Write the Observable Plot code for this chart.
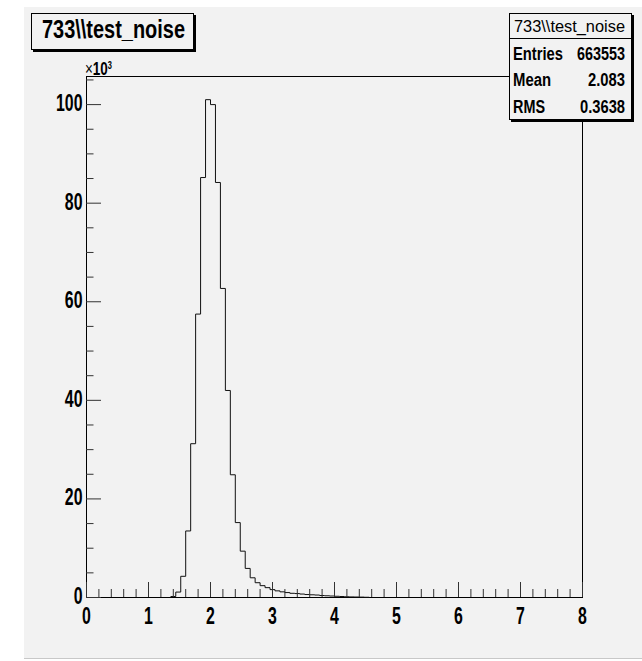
<!DOCTYPE html>
<html><head><meta charset="utf-8">
<script src="https://cdn.jsdelivr.net/npm/d3@7"></script>
<script src="https://cdn.jsdelivr.net/npm/@observablehq/plot@0.6"></script>
<style>
html,body{margin:0;padding:0;background:#fff;}
#wrap{position:relative;width:642px;height:661px;overflow:hidden;background:#fff;font-family:"Liberation Sans",Arial,sans-serif;}
#canvas{position:absolute;left:24px;top:7px;width:618px;height:651px;background:#f2f2f2;border-bottom:1px solid #c8c8c8;}
#chart{position:absolute;left:0;top:0;}
.box{position:absolute;border:1px solid #000;box-shadow:2px 2px 0 #000;background:#f2f2f2;}
#title{left:31px;top:13px;width:161px;height:35px;}
#stats{left:509px;top:13px;width:121px;height:105px;}
#stats .hd{position:absolute;left:0;top:24px;width:121px;height:0;border-bottom:1px solid #000;}
.t{position:absolute;white-space:nowrap;color:#000;}
.t span{display:inline-block;}
</style>
</head><body>
<div id="wrap">
  <div id="canvas"></div>
  <div id="chart"></div>
  <div id="title" class="box"></div>
  <div id="stats" class="box"><div class="hd"></div></div>
</div>
<script>
// Histogram: bin lower edges (bin width 0.08) and counts in thousands
const binWidth = 0.08;
const binStart = [1.36,1.44,1.52,1.60,1.68,1.76,1.84,1.92,2.00,2.08,2.16,2.24,2.32,2.40,2.48,2.56,2.64,2.72,2.80,2.88,
                  2.96,3.04,3.12,3.20,3.28,3.36,3.44,3.52,3.60,3.68,3.76,3.84,3.92,4.00,4.08,4.16,4.24,4.32,4.40,4.48];
const counts   = [0.2,1.1,4.3,13.5,31.2,57.5,85.2,101.0,100.0,84.2,62.7,42.0,24.9,15.2,9.4,5.9,4.0,3.0,2.4,2.0,
                  1.6,1.35,1.15,1.0,0.85,0.8,0.7,0.6,0.55,0.5,0.4,0.35,0.3,0.25,0.2,0.15,0.12,0.1,0.08,0.05];
const xMajor = [0,1,2,3,4,5,6,7,8];
const xMinor = [0.2,0.4,0.6,0.8,1.2,1.4,1.6,1.8,2.2,2.4,2.6,2.8,3.2,3.4,3.6,3.8,4.2,4.4,4.6,4.8,5.2,5.4,5.6,5.8,6.2,6.4,6.6,6.8,7.2,7.4,7.6,7.8];
const yMajor = [0,20,40,60,80,100];
const yMinor = [5,10,15,25,30,35,45,50,55,65,70,75,85,90,95,105];
const yMax = 105.7;
const titleText = "733\\\\test_noise";
const statLabels = ["Entries","Mean","RMS"];
const statValues = ["663553","2.083","0.3638"];

const pts = [{x: binStart[0], y: 0}];
binStart.forEach((b, i) => pts.push({x: b, y: counts[i]}));
pts.push({x: binStart[binStart.length-1] + binWidth, y: 0});

const FONT = '"Liberation Sans",Arial,sans-serif';
const plot = Plot.plot({
  width: 642, height: 661,
  marginLeft: 86, marginRight: 60, marginTop: 76, marginBottom: 64,
  style: {background: "transparent", fontFamily: FONT, fontSize: "23px", fontWeight: "bold", color: "black", overflow: "visible"},
  x: {domain: [0, 8]},
  y: {domain: [0, yMax]},
  marks: [
    Plot.frame({stroke: "black", strokeWidth: 1}),
    Plot.line(pts, {x: "x", y: "y", curve: "step-after", stroke: "#111", strokeWidth: 1}),
    Plot.axisX(xMajor, {tickSize: -15, tickFormat: () => "", label: null, stroke: "#333"}),
    Plot.axisX(xMinor, {tickSize: -8, tickFormat: () => "", label: null, stroke: "#333"}),
    Plot.axisX(xMajor, {tickSize: 0, tickPadding: 10, label: null, fontSize: 23, fontWeight: "bold"}),
    Plot.axisY(yMajor, {tickSize: -15, tickFormat: () => "", label: null, stroke: "#333"}),
    Plot.axisY(yMinor, {tickSize: -7.5, tickFormat: () => "", label: null, stroke: "#333"}),
    Plot.axisY(yMajor, {tickSize: 0, tickPadding: 4, label: null, fontSize: 23, fontWeight: "bold", dy: -1})
  ]
});
document.getElementById("chart").appendChild(plot);
// condense the tick labels (ROOT uses a narrow bold face)
plot.querySelectorAll("text").forEach(t => {
  const w = t.getComputedTextLength();
  if (w > 0) { t.setAttribute("textLength", w * 0.69); t.setAttribute("lengthAdjust", "spacingAndGlyphs"); }
});

const wrap = document.getElementById("wrap");
// place a text: x anchor, y = cap centre, squeezed to target width
function place(text, {x, y, anchor = "start", size, weight = "normal", width, html = false}) {
  const d = document.createElement("div"); d.className = "t";
  const s = document.createElement("span");
  if (html) s.innerHTML = text; else s.textContent = text;
  d.appendChild(s);
  d.style.fontSize = size + "px"; d.style.fontWeight = weight; d.style.lineHeight = size + "px";
  wrap.appendChild(d);
  const nat = s.getBoundingClientRect().width;
  const k = width / nat;
  s.style.transform = `scaleX(${k})`;
  s.style.transformOrigin = "0 0";
  const left = anchor === "start" ? x : anchor === "end" ? x - width : x - width / 2;
  d.style.left = left + "px";
  d.style.top = (y - 0.488 * size) + "px";
  return d;
}
place(titleText, {x: 113.5, y: 29.5, anchor: "middle", size: 25, weight: "bold", width: 143});
place(titleText, {x: 569, y: 26, anchor: "middle", size: 17, weight: "normal", width: 111});
const labW = [50, 38, 32], valW = [48, 37, 45];
statLabels.forEach((l, i) => {
  place(l, {x: 513, y: 53.5 + i * 26.7, anchor: "start", size: 18, weight: "bold", width: labW[i]});
  place(statValues[i], {x: 625, y: 53.5 + i * 26.7, anchor: "end", size: 18, weight: "bold", width: valW[i]});
});
place('×<b>10</b><sup style="font-size:10px;font-weight:bold;vertical-align:6px">3</sup>',
      {x: 85, y: 66, anchor: "start", size: 18, width: 27, html: true});
</script>
</body></html>
